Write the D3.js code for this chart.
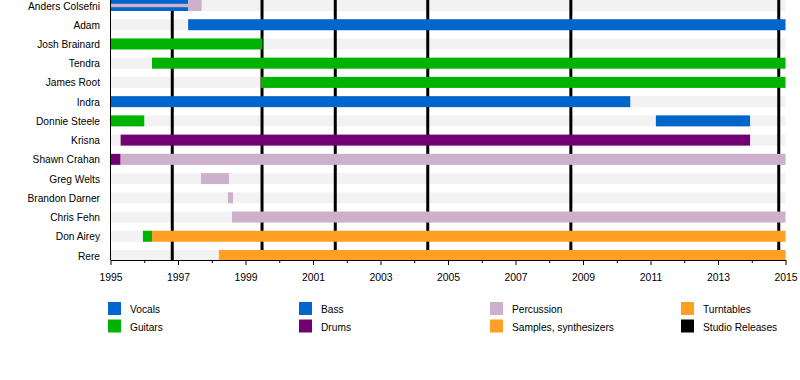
<!DOCTYPE html>
<html>
<head>
<meta charset="utf-8">
<script src="https://cdn.jsdelivr.net/npm/d3@7"></script>
<style>
  body { margin: 0; background: #fff; }
  svg { display: block; font-family: "Liberation Sans", Arial, sans-serif; }
  .axis text { font-size: 10.4px; fill: #000; }
  .axis path, .axis line { stroke: #000; }
</style>
</head>
<body>
<div id="chart"></div>
<script>
// Band members, top to bottom
const members = [
  'Anders Colsefni', 'Adam', 'Josh Brainard', 'Tendra', 'James Root', 'Indra',
  'Donnie Steele', 'Krisna', 'Shawn Crahan', 'Greg Welts', 'Brandon Darner',
  'Chris Fehn', 'Don Airey', 'Rere',
];

// Legend order (column by column)
const roles = [
  'Vocals', 'Guitars', 'Bass', 'Drums',
  'Percussion', 'Samples, synthesizers', 'Turntables', 'Studio Releases',
];
const roleColors = [
  '#0066cc', '#00b300', '#0066cc', '#730073',
  '#ccb0cc', '#ffa024', '#ffa024', '#000000',
];

// [member, role, from, to]
const periods = [
  ['Anders Colsefni', 'Vocals', 1995, 1997.3],
  ['Anders Colsefni', 'Percussion', 1997.3, 1997.7],
  ['Adam', 'Bass', 1997.3, 2015],
  ['Josh Brainard', 'Guitars', 1995, 1999.5],
  ['Tendra', 'Guitars', 1996.23, 2015],
  ['James Root', 'Guitars', 1999.46, 2015],
  ['Indra', 'Vocals', 1995, 2010.4],
  ['Donnie Steele', 'Guitars', 1995, 1996.0],
  ['Donnie Steele', 'Bass', 2011.16, 2013.95],
  ['Krisna', 'Drums', 1995.3, 2013.95],
  ['Shawn Crahan', 'Drums', 1995, 1995.3],
  ['Shawn Crahan', 'Percussion', 1995.3, 2015],
  ['Greg Welts', 'Percussion', 1997.68, 1998.51],
  ['Brandon Darner', 'Percussion', 1998.48, 1998.63],
  ['Chris Fehn', 'Percussion', 1998.6, 2015],
  ['Don Airey', 'Guitars', 1995.96, 1996.23],
  ['Don Airey', 'Samples, synthesizers', 1996.23, 2015],
  ['Rere', 'Turntables', 1998.21, 2015],
];

// secondary roles drawn as a thin stripe inside the main bar
const sidePeriods = [
  ['Anders Colsefni', 'Percussion', 1995, 1997.3],
];

// studio releases
const releases = [1996.83, 1999.49, 2001.66, 2004.4, 2008.64, 2014.8];

const width = 800;
const height = 380;
const barH = 11;

const color = d3.scaleOrdinal().domain(roles).range(roleColors);

const x = d3.scaleLinear().domain([1995, 2015]).range([110.5, 785.5]);
const y = d3.scalePoint().domain(members).range([5.5, 255.5]);
const axisY = 260;

const svg = d3.select('#chart')
  .append('svg')
  .attr('width', width)
  .attr('height', height);

// background stripes
svg.append('g')
  .selectAll('rect')
  .data(members)
  .join('rect')
  .attr('x', x(1995))
  .attr('y', (d) => y(d) - barH / 2)
  .attr('width', x(2015) - x(1995))
  .attr('height', barH)
  .attr('fill', '#f2f2f2');

// studio release lines
svg.append('g')
  .selectAll('line')
  .data(releases)
  .join('line')
  .attr('x1', (d) => x(d))
  .attr('x2', (d) => x(d))
  .attr('y1', 0)
  .attr('y2', axisY)
  .attr('stroke', color('Studio Releases'))
  .attr('stroke-width', 3);

// bars
svg.append('g')
  .selectAll('rect')
  .data(periods)
  .join('rect')
  .attr('x', (d) => x(d[2]))
  .attr('y', (d) => y(d[0]) - barH / 2)
  .attr('width', (d) => x(d[3]) - x(d[2]))
  .attr('height', barH)
  .attr('fill', (d) => color(d[1]));

svg.append('g')
  .selectAll('rect')
  .data(sidePeriods)
  .join('rect')
  .attr('x', (d) => x(d[2]))
  .attr('y', (d) => y(d[0]) - 1.7)
  .attr('width', (d) => x(d[3]) - x(d[2]))
  .attr('height', 3.4)
  .attr('fill', (d) => color(d[1]));

// member names
svg.append('g')
  .selectAll('text')
  .data(members)
  .join('text')
  .attr('x', 100)
  .attr('y', (d) => y(d) + 4)
  .attr('text-anchor', 'end')
  .attr('font-size', '10.2px')
  .text((d) => d);

// vertical axis line
svg.append('line')
  .attr('x1', x(1995))
  .attr('x2', x(1995))
  .attr('y1', 0)
  .attr('y2', axisY)
  .attr('stroke', '#000');

// minor ticks
svg.append('g')
  .attr('class', 'axis')
  .attr('transform', `translate(0,${axisY})`)
  .call(d3.axisBottom(x)
    .tickValues(d3.range(1996, 2015, 2))
    .tickSize(3)
    .tickSizeOuter(0)
    .tickFormat(''));

// major ticks
svg.append('g')
  .attr('class', 'axis')
  .attr('transform', `translate(0,${axisY})`)
  .call(d3.axisBottom(x)
    .tickValues(d3.range(1995, 2016, 2))
    .tickSize(5)
    .tickSizeOuter(0)
    .tickPadding(9)
    .tickFormat(d3.format('d')));

// legend
const legend = svg.append('g')
  .selectAll('g')
  .data(roles)
  .join('g')
  .attr('transform', (d, i) => `translate(${108 + Math.floor(i / 2) * 191},${302 + (i % 2) * 17.5})`);

legend.append('rect')
  .attr('width', 13)
  .attr('height', 13)
  .attr('fill', (d) => color(d));

legend.append('text')
  .attr('x', 22)
  .attr('y', 11)
  .attr('font-size', '10.2px')
  .text((d) => d);
</script>
</body>
</html>
